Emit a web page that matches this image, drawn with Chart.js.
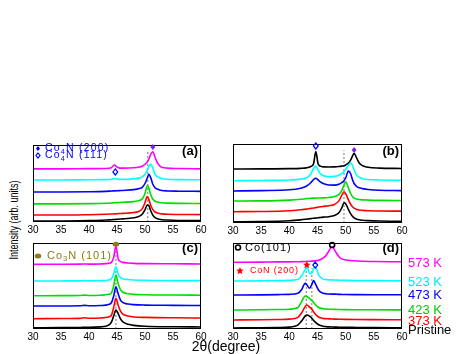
<!DOCTYPE html>
<html><head><meta charset="utf-8">
<script src="https://cdn.jsdelivr.net/npm/chart.js@4"></script>
<style>
body{margin:0;background:#fff;width:463px;height:354px;position:relative;overflow:hidden;font-family:Arial,"Liberation Sans",sans-serif}
canvas{position:absolute}
.lbl{position:absolute;font-size:13px;white-space:nowrap;line-height:13px;transform:translateY(-50%)}
#ytitle{position:absolute;left:13px;top:220px;font-size:13px;white-space:nowrap;transform:translate(-50%,-50%) rotate(-90deg) scaleX(0.69)}
#xtitle{position:absolute;left:226px;top:346px;font-size:14px;white-space:nowrap;transform:translate(-50%,-50%)}
</style></head><body>
<canvas id="ca" width="192" height="94" style="left:21px;top:142px"></canvas>
<canvas id="cb" width="193" height="96" style="left:221px;top:141px"></canvas>
<canvas id="cc" width="192" height="103" style="left:21px;top:240px"></canvas>
<canvas id="cd" width="193" height="103" style="left:221px;top:240px"></canvas>
<div id="ytitle">Intensity (arb. units)</div>
<div id="xtitle">2θ(degree)</div>
<div class="lbl" style="left:408px;top:262px;color:#ff00ff">573 K</div>
<div class="lbl" style="left:408px;top:281px;color:#00e5ff">523 K</div>
<div class="lbl" style="left:408px;top:294px;color:#0000ff">473 K</div>
<div class="lbl" style="left:408px;top:309px;color:#00cc00">423 K</div>
<div class="lbl" style="left:408px;top:320px;color:#ff0000">373 K</div>
<div class="lbl" style="left:408px;top:329px;color:#000">Pristine</div>
<script>
// ---------- data ----------
const xTicks = [30, 35, 40, 45, 50, 55, 60];
const seriesNames = ['Pristine', '373 K', '423 K', '473 K', '523 K', '573 K'];

// panel (a)
const xa = [30,35,40,43,44,44.5,45,45.5,46,48,49,49.5,50,50.4,50.7,51,51.4,51.8,52.2,52.6,53,54,56,60];
const a_573 = [69,69,69.3,69.5,70.5,74,71.5,70,70,70.5,71.5,72.5,75,78,82,87.5,91.3,84,77,73,71,70,69.5,69];
const a_523 = [54.5,54.5,54.8,55,55.5,56.5,55.8,55.3,55.3,56,57,58.5,62,67,72,75.3,70,62,59,57.5,56.5,55.5,55,54.8];
const a_473 = [39,39,39.3,39.8,40.2,40.4,40.6,40.8,41,42,43.5,45,50,57,62,58,49,44.5,42.8,41.5,40.8,40.3,40,39.8];
const a_423 = [23.5,23.5,23.8,24.3,24.7,25,25.2,25.4,25.6,26.5,28,30,37,47,44,36,29.5,27,26,25.3,24.9,24.5,24.2,24];
const a_373 = [9,9,9.5,10,10.3,10.5,10.7,11,11.2,12.3,14,17,25,33,29,22,16,13,11.8,11,10.5,10,9.8,9.6];
const a_pri = [1.3,1.3,1.8,2.5,3,3.2,3.5,3.8,4,5.5,7.5,10,16,22,21,15,9,5.8,4.3,3.5,3,2.5,2,1.8];

// panel (b)
const xb = [30,35,40,42,43,43.8,44.3,44.7,45.1,45.5,46,47,48,48.8,49.3,49.7,50,50.5,50.9,51.2,51.5,51.9,52.4,53,54,56,60];
const b_573 = [68.4,68.5,68.8,69.2,69.8,71.5,75,90.3,75,72,71,70.8,71,71.5,72,72.5,73.5,76,80,84.5,88.2,83,76,72.5,70.5,69.5,69];
const b_523 = [53.5,53.8,54.5,55.5,57,62,69,72,67,62.5,60,58.6,59,60.5,62.5,65,68,73,76.3,73,67,61,58,56,55,54.5,54];
const b_473 = [40.5,41,42,44,46.5,51,55,56.6,54.5,52,50,48.1,48,49,51,53.5,57,65.8,62,55,50,46.5,44.5,43.5,42.5,41.5,41];
const b_423 = [27.8,28,29,30,30.8,31.3,31.5,31.6,31.6,31.7,31.8,32.3,33.5,36,41,48,52.3,44,37,33.5,31.5,30.5,29.8,29.3,29,28.7,28.5];
const b_373 = [14.3,14.5,15.5,16.8,17.6,18.5,19,19.5,20,20.5,21,21.9,23.5,28,35,39.6,37,29,23.5,20.5,18.8,17.5,16.5,16,15.5,15.2,15];
const b_pri = [1.6,1.8,2.8,4,4.8,5.5,6,6.3,6.6,7,7.4,8,9.5,13,19,25.7,24.5,17,11.5,8.5,6.5,5,4,3.5,3,2.5,2.2];

// panel (c)
const xc = [30,35,38.5,39.2,40,42,43.5,44,44.4,44.8,45.2,45.6,46,47,48,50,55,60];
const c_573 = [75.2,75.3,75.4,75.6,75.4,75.6,76.3,77.5,83,96.5,82,78.5,77.5,76.8,76.3,76,75.8,75.6];
const c_523 = [55.8,55.9,56,56.3,56,56.2,57,58.5,64,72.4,64,60,58.5,57.5,57,56.6,56.3,56.2];
const c_473 = [26.7,26.8,27,27.5,27,27.3,28.5,30.5,38,49.2,41,34,31,29,28.3,27.8,27.5,27.3];
const c_423 = [38.7,38.8,39,39.4,39,39.3,40.3,42,50,62.8,53,46,43,41,40.3,39.8,39.5,39.3];
const c_373 = [12,12.2,12.4,13,12.5,12.8,14,16,25,35.7,28,21,17.5,15,14,13.5,13,12.8];
const c_pri = [1.5,1.6,1.8,2,2,2.5,4.5,8,15,22.1,18,12,8.5,5.5,4.2,3.2,2.6,2.4];

// panel (d)
const xd = [30,35,38,40,41.5,42.2,42.8,43.1,43.6,44,44.3,44.6,45.2,46,46.5,47,47.6,48.2,48.7,49.3,50,52,55,60];
const d_573 = [77.6,77.8,78,78,78.2,78.3,78.5,78.6,78.7,78.9,79,79.3,80,82.5,85.5,90.5,95.7,90,85,81.5,80.3,79,78.5,78.2];
const d_523 = [55.8,56,56.2,56.5,57.5,62,69,72.4,64.5,65,70,72.4,63,58,57.5,57.2,57,57,56.8,56.6,56.5,56.3,56.2,56];
const d_473 = [39.5,39.7,40,40.3,41.5,46,53.1,51.5,47.3,52,56.2,53,45,41.5,41,40.7,40.5,40.5,40.3,40.2,40.1,40,39.9,39.8];
const d_423 = [22.1,22.3,22.6,23,25,32,38.4,37.8,35.5,33,31,28.5,25,23.5,23.2,23,22.9,22.8,22.7,22.6,22.5,22.4,22.3,22.2];
const d_373 = [10.5,10.7,11,11.5,13.5,19,26,27.9,25.5,23,20,17.5,14,12.3,12,11.8,11.6,11.5,11.4,11.3,11.2,11,10.9,10.8];
const d_pri = [1.2,1.4,1.7,2.2,4.5,9.5,15,16.3,15,12.5,10,8,5,3.2,2.8,2.5,2.3,2.2,2.1,2,1.9,1.8,1.6,1.5];

// reference (dotted) line positions, 2θ
const refA = [50.5], refB = [49.7], refC = [44.8], refD = [43.0, 44.0];

// ---------- styles ----------
const C = {blk:'#000000', red:'#ff0000', grn:'#00dd00', blu:'#0000ff', cyn:'#00ffff', mag:'#ff00ff'};
const VIOLET = '#7a1fff', OLIVE = '#8c7b1e';

function drawMark(ctx, px, py, kind, color, s) {
  ctx.save();
  ctx.fillStyle = color; ctx.strokeStyle = color; ctx.lineWidth = 1.2;
  ctx.beginPath();
  if (kind === 'fdia' || kind === 'odia') {
    ctx.moveTo(px, py - s); ctx.lineTo(px + s*0.8, py); ctx.lineTo(px, py + s); ctx.lineTo(px - s*0.8, py); ctx.closePath();
    if (kind === 'fdia') ctx.fill(); else ctx.stroke();
  } else if (kind === 'fcir') {
    ctx.ellipse(px, py, s*1.3, s, 0, 0, Math.PI*2); ctx.fill();
  } else if (kind === 'ocir') {
    ctx.lineWidth = 1.6; ctx.arc(px, py, s, 0, Math.PI*2); ctx.stroke();
  } else if (kind === 'star') {
    for (let i = 0; i < 10; i++) {
      const r = i % 2 ? s*0.45 : s;
      const a = -Math.PI/2 + i*Math.PI/5;
      const X = px + r*Math.cos(a), Y = py + r*Math.sin(a);
      i ? ctx.lineTo(X, Y) : ctx.moveTo(X, Y);
    }
    ctx.closePath(); ctx.fill();
  }
  ctx.restore();
}
function drawRich(ctx, x, y, parts, size, color, bold, spacing) {
  ctx.save();
  ctx.fillStyle = color; ctx.textBaseline = 'middle'; ctx.textAlign = 'left';
  ctx.letterSpacing = (spacing || 0) + 'px';
  let cx = x;
  parts.forEach(([t, sub]) => {
    const fs = sub ? size*0.7 : size;
    ctx.font = (bold ? 'bold ' : '') + fs + 'px Arial, "Liberation Sans", sans-serif';
    ctx.fillText(t, cx, y + (sub ? size*0.3 : 0));
    cx += ctx.measureText(t).width;
  });
  ctx.restore();
}

const framePlugin = {
  id: 'frame',
  afterDraw(chart, args, opts) {
    const {ctx, chartArea: a, scales: {x, y}} = chart;
    ctx.save();
    ctx.strokeStyle = '#000'; ctx.lineWidth = 1;
    ctx.strokeRect(Math.round(a.left)+0.5, Math.round(a.top)+0.5, Math.round(a.right-a.left)-1, Math.round(a.bottom-a.top)-1);
    ctx.restore();
    (opts.marks || []).forEach(m => drawMark(ctx, x.getPixelForValue(m.x), y.getPixelForValue(m.y), m.kind, m.color, m.s));
    (opts.texts || []).forEach(t => {
      if (t.mark) drawMark(ctx, a.left + t.mark.dx, a.top + t.dy, t.mark.kind, t.color, t.mark.s);
      drawRich(ctx, a.left + t.dx, a.top + t.dy, t.parts, t.size, t.color, t.bold, t.sp);
    });
    if (opts.tag) {
      ctx.save();
      ctx.font = 'bold 13px Arial, "Liberation Sans", sans-serif';
      ctx.fillStyle = '#000'; ctx.textAlign = 'right'; ctx.textBaseline = 'middle';
      ctx.fillText(opts.tag.text, a.right - 3, a.top + opts.tag.dy);
      ctx.restore();
    }
  }
};

function mkChart(id, xs, ys, cols, refs, refTop, plug) {
  const datasets = [];
  ys.forEach((arr, i) => datasets.push({
    label: seriesNames[i],
    data: xs.map((v, j) => ({x: v, y: arr[j]})),
    borderColor: cols[i], borderWidth: 1.6, pointRadius: 0,
    cubicInterpolationMode: 'monotone', fill: false
  }));
  refs.forEach(r => datasets.push({
    label: 'ref', data: [{x: r, y: 0}, {x: r, y: refTop}],
    borderColor: '#777', borderWidth: 1, borderDash: [2, 2], pointRadius: 0
  }));
  return new Chart(document.getElementById(id), {
    type: 'line',
    data: {datasets},
    options: {
      responsive: false, animation: false, events: [],
      layout: {padding: {left: 12, right: 12, top: 3, bottom: 0}},
      plugins: {legend: {display: false}, tooltip: {enabled: false}, frame: plug},
      scales: {
        x: {type: 'linear', min: 30, max: 60,
            afterBuildTicks: s => { s.ticks = xTicks.map(v => ({value: v})); },
            afterFit: s => { s.height = 14; },
            grid: {display: false, drawTicks: false}, border: {display: false},
            ticks: {padding: 2, color: '#000', maxRotation: 0, font: {size: 10, family: 'Arial, "Liberation Sans", sans-serif'}}},
        y: {display: false, min: 0, max: 100}
      }
    },
    plugins: [framePlugin]
  });
}

mkChart('ca', xa, [a_pri, a_373, a_423, a_473, a_523, a_573], [C.blk, C.red, C.grn, C.blu, C.cyn, C.mag], refA, 93, {
  tag: {text: '(a)', dy: 6.5},
  marks: [{x: 51.4, y: 97.4, kind: 'fdia', color: VIOLET, s: 3}, {x: 44.7, y: 65, kind: 'odia', color: C.blu, s: 3}],
  texts: [
    {dx: 12, dy: 3.5, size: 10.5, sp: 1.2, color: '#0000ff', parts: [['Co'], ['4', 1], ['N (200)']], mark: {dx: 5, kind: 'fdia', s: 2.5}},
    {dx: 12, dy: 10.5, size: 10.5, sp: 1.2, color: '#0000ff', parts: [['Co'], ['4', 1], ['N (111)']], mark: {dx: 5, kind: 'odia', s: 2.5}}
  ]
});
mkChart('cb', xb, [b_pri, b_373, b_423, b_473, b_523, b_573], [C.blk, C.red, C.grn, C.blu, C.cyn, C.blk], refB, 92, {
  tag: {text: '(b)', dy: 7},
  marks: [{x: 44.7, y: 97.5, kind: 'odia', color: C.blu, s: 3}, {x: 51.5, y: 92.4, kind: 'fdia', color: VIOLET, s: 3}]
});
mkChart('cc', xc, [c_pri, c_373, c_473, c_423, c_523, c_573], [C.blk, C.red, C.blu, C.grn, C.cyn, C.mag], refC, 95, {
  tag: {text: '(c)', dy: 5.5},
  marks: [{x: 44.8, y: 98.5, kind: 'fcir', color: OLIVE, s: 2.5}],
  texts: [
    {dx: 14, dy: 13, size: 11, sp: 1, color: OLIVE, parts: [['Co'], ['3', 1], ['N (101)']], mark: {dx: 5, kind: 'fcir', s: 2.5}}
  ]
});
mkChart('cd', xd, [d_pri, d_373, d_423, d_473, d_523, d_573], [C.blk, C.red, C.grn, C.blu, C.cyn, C.mag], refD, 71, {
  tag: {text: '(d)', dy: 5},
  marks: [{x: 47.6, y: 97.7, kind: 'ocir', color: '#000', s: 2.5}, {x: 43.1, y: 74.4, kind: 'star', color: C.red, s: 4},
          {x: 44.6, y: 74.4, kind: 'odia', color: C.blu, s: 3}],
  texts: [
    {dx: 12, dy: 4.5, size: 11, sp: 1, color: '#000', parts: [['Co(101)']], mark: {dx: 5, kind: 'ocir', s: 2.5}},
    {dx: 17, dy: 28, size: 9, sp: 0.8, color: '#ff0000', parts: [['CoN (200)']], mark: {dx: 7, kind: 'star', s: 4}}
  ]
});
</script>
</body></html>
